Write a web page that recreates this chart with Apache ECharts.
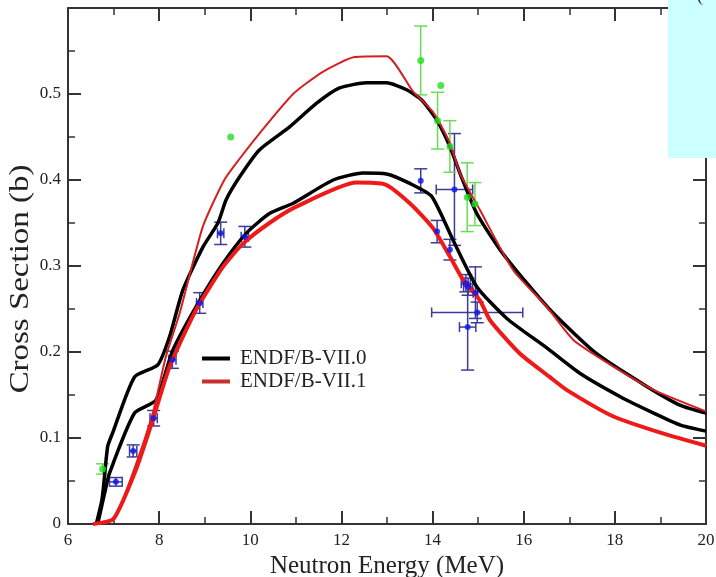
<!DOCTYPE html>
<html>
<head>
<meta charset="utf-8">
<script src="https://cdn.jsdelivr.net/npm/echarts@6.0.0/dist/echarts.min.js"></script>
<style>
  html, body { margin: 0; padding: 0; background: #fff; }
  #chart { width: 716px; height: 577px; }
</style>
</head>
<body>
<div id="chart"></div>
<script>
// ENDF/B-VII.0, upper and lower curve
var b0HiE = [6.62, 6.75, 6.87, 6.98, 7.46, 7.97, 8.23, 8.52, 8.96, 9.29, 9.47, 9.77, 10.2, 10.87, 11.45, 11.96, 12.55, 12.99, 13.43, 13.76, 14.09, 14.38, 14.6, 14.97, 15.48, 16.07, 16.65, 17.6, 18.7, 19.44, 20];
var b0HiV = [0, 0.03, 0.090, 0.106, 0.171, 0.185, 0.218, 0.272, 0.322, 0.350, 0.377, 0.404, 0.435, 0.462, 0.489, 0.507, 0.513, 0.513, 0.505, 0.493, 0.470, 0.439, 0.408, 0.361, 0.319, 0.280, 0.245, 0.198, 0.160, 0.138, 0.129];
var b0LoE = [6.65, 6.8, 6.91, 7.46, 7.93, 8.3, 8.89, 9.4, 9.91, 10.42, 10.94, 11.82, 12.47, 12.99, 13.5, 13.98, 14.45, 14.97, 15.63, 16.5, 17.24, 18.12, 18.85, 19.44, 20];
var b0LoV = [0, 0.035, 0.059, 0.129, 0.144, 0.202, 0.260, 0.303, 0.338, 0.361, 0.373, 0.400, 0.408, 0.407, 0.396, 0.381, 0.330, 0.276, 0.239, 0.205, 0.175, 0.148, 0.129, 0.115, 0.108];
// ENDF/B-VII.1, upper and lower curve
var b1HiE = [6.55, 7.0, 7.42, 7.86, 8.15, 8.45, 8.96, 9.43, 9.77, 10.2, 10.94, 11.6, 12.29, 12.99, 13.57, 14.01, 14.38, 14.6, 15.04, 15.77, 16.5, 17.09, 17.97, 18.85, 20];
var b1HiV = [0, 0.005, 0.059, 0.129, 0.195, 0.245, 0.346, 0.400, 0.425, 0.454, 0.500, 0.526, 0.543, 0.544, 0.503, 0.479, 0.443, 0.408, 0.365, 0.295, 0.253, 0.214, 0.183, 0.156, 0.131];
var b1LoE = [6.55, 7.0, 7.49, 7.86, 8.23, 8.81, 9.4, 9.84, 10.42, 11.01, 12.33, 12.95, 13.5, 14.01, 14.38, 14.67, 15.04, 15.26, 15.92, 16.57, 16.94, 17.97, 19.07, 20];
var b1LoV = [0, 0.006, 0.063, 0.121, 0.183, 0.249, 0.299, 0.326, 0.350, 0.369, 0.397, 0.395, 0.373, 0.344, 0.311, 0.284, 0.260, 0.237, 0.198, 0.171, 0.156, 0.125, 0.105, 0.091];

// measurements: energy, value, energy error, value error
var blueE  = [7.05, 7.43, 7.88, 8.29, 8.89, 9.35, 9.88, 13.74, 14.48, 14.1, 14.38, 14.73, 14.78, 14.94, 14.98, 14.77];
var blueV  = [0.049, 0.085, 0.123, 0.191, 0.257, 0.338, 0.334, 0.399, 0.389, 0.340, 0.319, 0.280, 0.276, 0.269, 0.246, 0.229];
var blueDE = [0.14, 0.08, 0.08, 0.08, 0.07, 0.07, 0.08, 0, 0.4, 0, 0, 0.1, 0.1, 0.05, 1.0, 0.18];
var blueDV = [0.005, 0.007, 0.009, 0.010, 0.012, 0.013, 0.012, 0.014, 0.065, 0.013, 0.012, 0.010, 0.010, 0.030, 0.012, 0.050];
var greenE  = [6.76, 9.57, 13.74, 14.18, 14.11, 14.38, 14.76, 14.93];
var greenV  = [0.064, 0.450, 0.539, 0.510, 0.469, 0.439, 0.380, 0.372];
var greenDE = [0, 0, 0, 0, 0, 0, 0, 0];
var greenDV = [0.006, 0, 0.040, 0, 0.033, 0.030, 0.040, 0.025];

var xTicks = { min: 6, max: 20, step: 2 };
var yTicks = { min: 0, max: 0.6, step: 0.1 };

function pairs(e, v) {
  return e.map(function (x, i) { return [x, v[i]]; });
}
function quads(e, v, de, dv) {
  return e.map(function (x, i) { return [x, v[i], de[i], dv[i]]; });
}

var serif = 'Liberation Serif';
var axisColor = '#333';

function errorBars(color) {
  return function (params, api) {
    var x = api.value(0), y = api.value(1), dx = api.value(2), dy = api.value(3);
    var kids = [];
    var st = { stroke: color, lineWidth: 1.5 };
    if (dy > 0) {
      var t = api.coord([x, y + dy]), b = api.coord([x, y - dy]);
      kids.push({ type: 'line', shape: { x1: t[0], y1: t[1], x2: b[0], y2: b[1] }, style: st });
      kids.push({ type: 'line', shape: { x1: t[0] - 6.5, y1: t[1], x2: t[0] + 6.5, y2: t[1] }, style: st });
      kids.push({ type: 'line', shape: { x1: b[0] - 6.5, y1: b[1], x2: b[0] + 6.5, y2: b[1] }, style: st });
    }
    if (dx > 0) {
      var l = api.coord([x - dx, y]), r = api.coord([x + dx, y]);
      kids.push({ type: 'line', shape: { x1: l[0], y1: l[1], x2: r[0], y2: r[1] }, style: st });
      kids.push({ type: 'line', shape: { x1: l[0], y1: l[1] - 5, x2: l[0], y2: l[1] + 5 }, style: st });
      kids.push({ type: 'line', shape: { x1: r[0], y1: r[1] - 5, x2: r[0], y2: r[1] + 5 }, style: st });
    }
    return { type: 'group', children: kids };
  };
}

function xAxisDef(pos, labels) {
  return {
    type: 'value', position: pos,
    min: xTicks.min, max: xTicks.max, interval: xTicks.step,
    axisLine: { show: true, onZero: false, lineStyle: { color: axisColor, width: 2 } },
    axisTick: { show: true, inside: true, length: 13, lineStyle: { color: axisColor, width: 2 } },
    minorTick: { show: true, splitNumber: 2, length: 7, lineStyle: { color: axisColor, width: 1.5 } },
    splitLine: { show: false },
    axisLabel: { show: labels, fontFamily: serif, fontSize: 17, color: '#222', margin: 8 },
    name: labels ? 'Neutron Energy (MeV)' : '',
    nameLocation: 'middle', nameGap: 26,
    nameTextStyle: { fontFamily: serif, fontSize: 25, color: '#222' }
  };
}
function yAxisDef(pos, labels) {
  return {
    type: 'value', position: pos,
    min: yTicks.min, max: yTicks.max, interval: yTicks.step,
    axisLine: { show: true, onZero: false, lineStyle: { color: axisColor, width: 2 } },
    axisTick: { show: true, inside: true, length: 13, lineStyle: { color: axisColor, width: 2 } },
    minorTick: { show: true, splitNumber: 2, length: 7, lineStyle: { color: axisColor, width: 1.5 } },
    splitLine: { show: false },
    axisLabel: { show: labels, showMaxLabel: false, fontFamily: serif, fontSize: 17, color: '#222', margin: 7 }
  };
}

function curve(name, data, color, width) {
  return {
    name: name, type: 'line', data: data, symbol: 'none', showSymbol: false,
    smooth: 0.2,
    lineStyle: { color: color, width: width }, itemStyle: { color: color },
    xAxisIndex: 0, yAxisIndex: 0, silent: true
  };
}

var option = {
  animation: false,
  grid: { left: 68, right: 10, top: 8, bottom: 53, containLabel: false, outerBoundsMode: 'none' },
  xAxis: [xAxisDef('bottom', true), xAxisDef('top', false)],
  yAxis: [yAxisDef('left', true), yAxisDef('right', false)],
  legend: {
    orient: 'vertical', left: 202, top: 348, padding: 0,
    icon: 'rect', itemWidth: 28, itemHeight: 4, itemGap: 2,
    textStyle: { fontFamily: serif, fontSize: 21, color: '#222', padding: [0, 0, 0, 5] },
    data: [
      { name: 'ENDF/B-VII.0', itemStyle: { color: '#000' } },
      { name: 'ENDF/B-VII.1', itemStyle: { color: '#c83030' } }
    ]
  },
  series: [
    curve('ENDF/B-VII.0', pairs(b0HiE, b0HiV), '#000', 3.5),
    curve('ENDF/B-VII.0', pairs(b0LoE, b0LoV), '#000', 3.5),
    curve('ENDF/B-VII.1', pairs(b1HiE, b1HiV), '#d42020', 2),
    curve('ENDF/B-VII.1', pairs(b1LoE, b1LoV), '#ee1a1a', 4),
    {
      type: 'custom', name: 'blueErr', data: quads(blueE, blueV, blueDE, blueDV),
      renderItem: errorBars('#3b3b9c'), encode: { x: 0, y: 1 }, silent: true, z: 3
    },
    {
      type: 'custom', name: 'greenErr', data: quads(greenE, greenV, greenDE, greenDV),
      renderItem: errorBars('#66dd55'), encode: { x: 0, y: 1 }, silent: true, z: 3
    },
    {
      type: 'scatter', name: 'blue', data: pairs(blueE, blueV), symbol: 'circle', symbolSize: 6,
      itemStyle: { color: '#1414ee' }, z: 4, silent: true
    },
    {
      type: 'scatter', name: 'green', data: pairs(greenE, greenV), symbol: 'circle', symbolSize: 7,
      itemStyle: { color: '#22dd22' }, z: 4, silent: true
    }
  ],
  graphic: [
    {
      type: 'text', x: 21, y: 279, rotation: Math.PI / 2, scaleX: 1.22,
      style: { text: 'Cross Section (b)', fontFamily: serif, fontSize: 27, fill: '#222', align: 'center', verticalAlign: 'middle' }
    },
    { type: 'rect', left: 668, top: 0, z: 100, shape: { width: 48, height: 158 }, style: { fill: '#ccffff' } },
    { type: 'text', left: 697, top: -13, z: 101, style: { text: '(', fontFamily: serif, fontSize: 18, fill: '#222' } }
  ]
};

var chart = echarts.init(document.getElementById('chart'));
chart.setOption(option);
</script>
</body>
</html>
